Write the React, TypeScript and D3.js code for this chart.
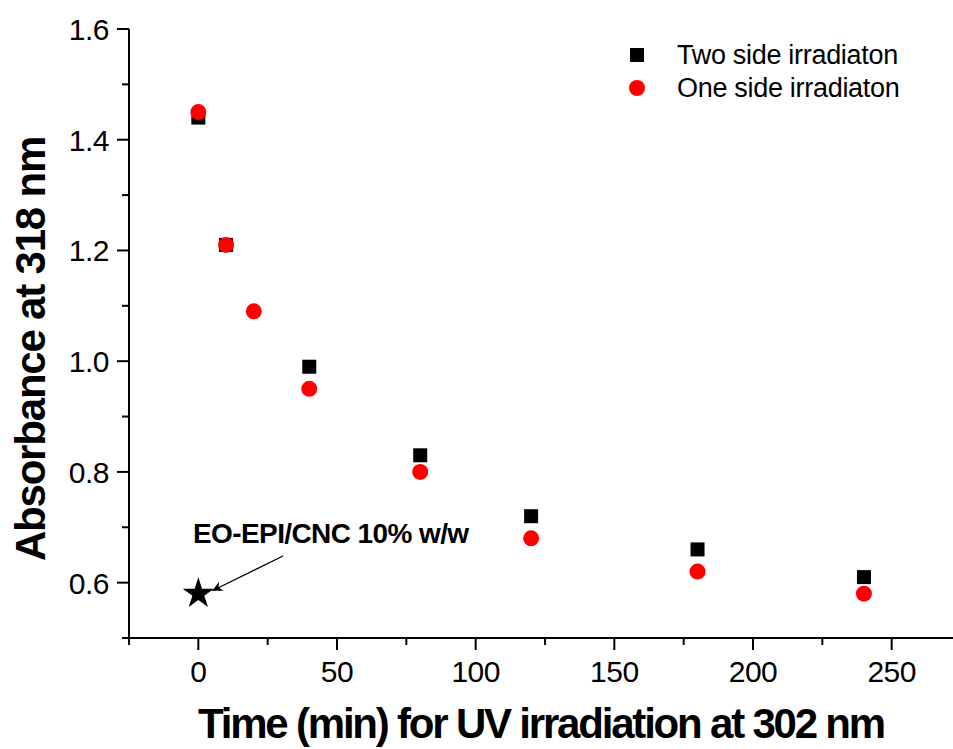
import React from 'react'
import * as d3 from 'd3'

const twoSideTime = [0, 10, 40, 80, 120, 180, 240]
const twoSideAbs = [1.44, 1.21, 0.99, 0.83, 0.72, 0.66, 0.61]
const oneSideTime = [0, 10, 20, 40, 80, 120, 180, 240]
const oneSideAbs = [1.45, 1.21, 1.09, 0.95, 0.80, 0.68, 0.62, 0.58]
const refPoint = { time: 0, abs: 0.58, label: 'EO-EPI/CNC 10% w/w' }
const xTicks = [0, 50, 100, 150, 200, 250]
const xMinor = [-25, 25, 75, 125, 175, 225]
const yTicks = [0.6, 0.8, 1.0, 1.2, 1.4, 1.6]
const yMinor = [0.5, 0.7, 0.9, 1.1, 1.3, 1.5]
const legendNames = ['Two side irradiaton', 'One side irradiaton']

const W = 953
const H = 749
const font = '"Liberation Sans", Arial, sans-serif'

const App = () => {
  const x = d3.scaleLinear().domain([-25, 275]).range([129, 961])
  const y = d3.scaleLinear().domain([0.5, 1.6]).range([638, 29])

  const star = d3.symbol().type(d3.symbolStar).size(300)()

  const sx = x(refPoint.time)
  const sy = y(refPoint.abs)

  return (
    <svg width={W} height={H} style={{ position: 'absolute', left: 0, top: 0, background: '#fff' }}>
      <defs>
        <marker id="arr" viewBox="0 0 10 10" refX="10" refY="5" markerWidth="16" markerHeight="10" orient="auto" markerUnits="userSpaceOnUse">
          <path d="M0,0 L10,5 L0,10 L3,5 z" fill="#000" />
        </marker>
      </defs>

      {/* axes */}
      <line x1={x(-25)} x2={W} y1={y(0.5)} y2={y(0.5)} stroke="#000" strokeWidth={2} />
      <line x1={x(-25)} x2={x(-25)} y1={y(0.5)} y2={y(1.6)} stroke="#000" strokeWidth={2} />

      {xTicks.map(t => (
        <g key={'xt' + t}>
          <line x1={x(t)} x2={x(t)} y1={y(0.5)} y2={y(0.5) + 12} stroke="#000" strokeWidth={2} />
          <text x={x(t)} y={y(0.5) + 44} textAnchor="middle" fontFamily={font} fontSize={30} letterSpacing={-0.5}>{t}</text>
        </g>
      ))}
      {xMinor.map(t => (
        <line key={'xm' + t} x1={x(t)} x2={x(t)} y1={y(0.5)} y2={y(0.5) + 7} stroke="#000" strokeWidth={2} />
      ))}
      {yTicks.map(t => (
        <g key={'yt' + t}>
          <line x1={x(-25)} x2={x(-25) - 12} y1={y(t)} y2={y(t)} stroke="#000" strokeWidth={2} />
          <text x={x(-25) - 20} y={y(t) + 11} textAnchor="end" fontFamily={font} fontSize={30} letterSpacing={-0.5}>{d3.format('.1f')(t)}</text>
        </g>
      ))}
      {yMinor.map(t => (
        <line key={'ym' + t} x1={x(-25)} x2={x(-25) - 7} y1={y(t)} y2={y(t)} stroke="#000" strokeWidth={2} />
      ))}

      {/* axis titles */}
      <text x={541} y={738} textAnchor="middle" fontFamily={font} fontSize={42} fontWeight="bold" letterSpacing={-2.2}>
        Time (min) for UV irradiation at 302 nm
      </text>
      <text transform={`translate(45,349) rotate(-90)`} textAnchor="middle" fontFamily={font} fontSize={42} fontWeight="bold" letterSpacing={-1.2}>
        Absorbance at 318 nm
      </text>

      {/* series */}
      {twoSideTime.map((t, i) => (
        <rect key={'s' + i} x={x(t) - 7} y={y(twoSideAbs[i]) - 7} width={14} height={14} fill="#000" />
      ))}
      {oneSideTime.map((t, i) => (
        <circle key={'c' + i} cx={x(t)} cy={y(oneSideAbs[i])} r={8} fill="#ff0000" />
      ))}

      {/* reference film */}
      <path d={star || ''} transform={`translate(${sx},${sy})`} fill="#000" />
      <line x1={283} y1={556} x2={sx + 14} y2={sy - 3} stroke="#000" strokeWidth={1.2} markerEnd="url(#arr)" />
      <text x={193} y={543} fontFamily={font} fontSize={28} fontWeight="bold" letterSpacing={-0.6}>{refPoint.label}</text>

      {/* legend */}
      <rect x={630} y={48} width={14} height={14} fill="#000" />
      <text x={677} y={64} fontFamily={font} fontSize={27} letterSpacing={-0.3}>{legendNames[0]}</text>
      <circle cx={637} cy={88} r={8} fill="#ff0000" />
      <text x={677} y={97} fontFamily={font} fontSize={27} letterSpacing={-0.3}>{legendNames[1]}</text>
    </svg>
  )
}

export default App
